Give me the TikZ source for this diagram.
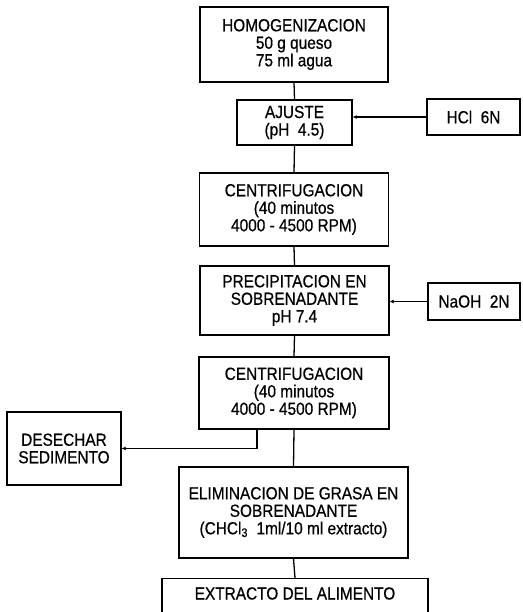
\documentclass[tikz,border=0pt]{standalone}
\usepackage{fontspec}
\setmainfont{Liberation Sans}[FakeStretch=0.88,FakeBold=0.6]
\usetikzlibrary{calc,arrows.meta}
\begin{document}
\begin{tikzpicture}[x=1pt,y=-1pt,
  box/.style={draw, line width=1.3pt, inner sep=0pt, align=center,
    font=\fontsize{17.5}{17.5}\selectfont},
  lnk/.style={line width=1.3pt},
  arr/.style={line width=1.3pt, -{Latex[length=4pt,width=4pt]}}]
\useasboundingbox (0,0) rectangle (522,612);
\clip (0,0) rectangle (522,612);
\node[box, minimum width=188, minimum height=75] (n1) at (294,44.5)
  {HOMOGENIZACION\\50 g queso\\75 ml agua};
\node[box, minimum width=115, minimum height=45] (n2) at (294.5,122.5)
  {AJUSTE\\(pH\ \ 4.5)};
\node[box, minimum width=93, minimum height=36] (hcl) at (473.5,117)
  {HCl\ \ 6N};
\node[box, minimum width=189, minimum height=73] (n3) at (294,209.5)
  {CENTRIFUGACION\\(40 minutos\\4000 - 4500 RPM)};
\node[box, minimum width=189, minimum height=69] (n4) at (294.5,300.5)
  {PRECIPITACION EN\\SOBRENADANTE\\pH 7.4};
\node[box, minimum width=92, minimum height=37] (naoh) at (474,301.5)
  {NaOH\ \ 2N};
\node[box, minimum width=190, minimum height=72] (n5) at (294,393)
  {CENTRIFUGACION\\(40 minutos\\4000 - 4500 RPM)};
\node[box, minimum width=114, minimum height=73] (des) at (64,448.5)
  {DESECHAR\\SEDIMENTO};
\node[box, minimum width=229, minimum height=91] (n6) at (293.5,512.5)
  {ELIMINACION DE GRASA EN\\SOBRENADANTE\\(CHCl\textsubscript{3}\ \ 1ml/10 ml extracto)};
\node[box, minimum width=266, minimum height=50, anchor=north] (n7) at (295,578) {};
\node[font=\fontsize{17.5}{17.5}\selectfont, inner sep=0pt] (n7t) at ($(n7.north)+(0,15.5)$)
  {EXTRACTO DEL ALIMENTO};
\draw[lnk] (n1.south) -- (n2.north);
\draw[lnk] (n2.south) -- (n3.north);
\draw[lnk] (n3.south) -- (n4.north);
\draw[lnk] (n4.south) -- (n5.north);
\draw[lnk] (n5.south) -- (n6.north);
\draw[lnk] (n6.south) -- (n7.north);
\draw[arr] (hcl.west) -- (hcl.west -| n2.east);
\draw[arr] (naoh.west) -- (naoh.west -| n4.east);
\draw[arr] ($(n5.south)+(-37,0)$) |- (des.east);
\end{tikzpicture}
\end{document}
